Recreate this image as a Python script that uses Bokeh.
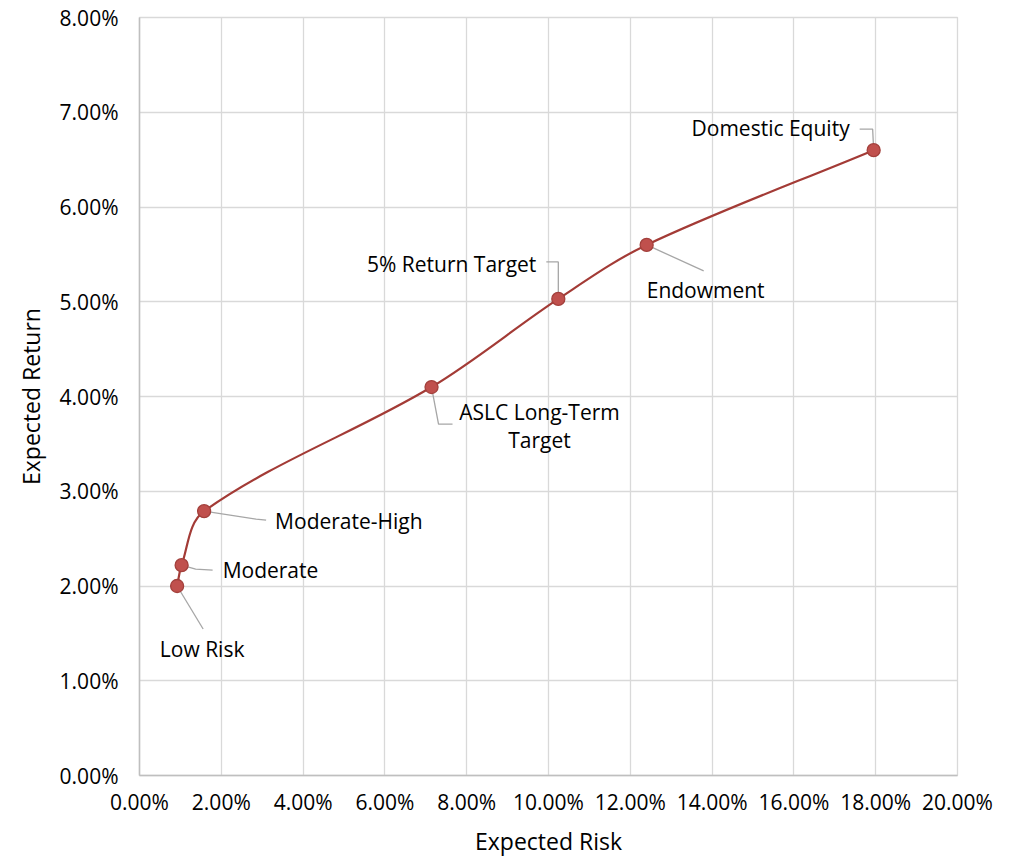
import math
from bokeh.plotting import figure
from bokeh.models import Range1d, FixedTicker, NumeralTickFormatter, ColumnDataSource
from bokeh.embed import file_html
from bokeh.resources import INLINE
from bokeh.core.properties import value

# ---- data ----
portfolios = ["Low Risk", "Moderate", "Moderate-High", "ASLC Long-Term\nTarget",
              "5% Return Target", "Endowment", "Domestic Equity"]
expected_risk = [0.0092, 0.0103, 0.0158, 0.0714, 0.1024, 0.1240, 0.1795]
expected_return = [0.0200, 0.0222, 0.0279, 0.0410, 0.0503, 0.0560, 0.0660]
x_tick_values = [0.00, 0.02, 0.04, 0.06, 0.08, 0.10, 0.12, 0.14, 0.16, 0.18, 0.20]
y_tick_values = [0.00, 0.01, 0.02, 0.03, 0.04, 0.05, 0.06, 0.07, 0.08]

# ---- layout / style ----
FONT = "Open Sans"
FW, FH = 818, 758
XMAX, YMAX = 0.20, 0.08
SX = FW / XMAX   # px per data unit
SY = FH / YMAX

# label placement (pixel offsets from point: dx right, dy down), and leader paths
label_dx = [25, 41, 71, 108, -22, 59, -24]
label_dy = [63, 5, 10, 39, -35, 45, -22]
label_align = ["center", "left", "left", "center", "right", "center", "right"]
leader_paths = [
    [(0, 0), (26, 43)],
    [(0, 0), (14, 4), (31, 5)],
    [(0, 0), (52, 8), (62, 9)],
    [(0, 0), (7, 37), (21, 37)],
    [(0, 0), (0, -37), (-12, -37)],
    [(0, 0), (57, 26)],
    [(0, 0), (-1, -21), (-14, -21)],
]

p = figure(frame_width=FW, frame_height=FH, output_backend="svg", toolbar_location=None,
           x_range=Range1d(0, XMAX), y_range=Range1d(0, YMAX),
           min_border_left=139, min_border_right=41, min_border_top=17, min_border_bottom=67,
           background_fill_color="white", border_fill_color="white")
p.outline_line_color = "#d9d9d9"
p.outline_line_width = 1.3

for ax in (p.xaxis[0], p.yaxis[0]):
    ax.major_tick_line_color = None
    ax.minor_tick_line_color = None
    ax.axis_line_color = "#bfbfbf"
    ax.axis_line_width = 1.5
    ax.major_label_text_font = FONT
    ax.major_label_text_font_size = "21px"
    ax.major_label_text_color = "#000000"
    ax.axis_label_text_font = FONT
    ax.axis_label_text_font_size = "23px"
    ax.axis_label_text_font_style = "normal"
    ax.axis_label_text_color = "#000000"
    ax.formatter = NumeralTickFormatter(format="0.00%")

p.xaxis[0].ticker = FixedTicker(ticks=x_tick_values)
p.yaxis[0].ticker = FixedTicker(ticks=y_tick_values)
p.xaxis.axis_label = "Expected Risk"
p.yaxis.axis_label = "Expected Return"
p.xaxis.major_label_standoff = 6
p.yaxis.major_label_standoff = 15
p.xaxis.axis_label_standoff = 6
p.yaxis.axis_label_standoff = 10

p.xgrid.ticker = FixedTicker(ticks=x_tick_values)
p.ygrid.ticker = FixedTicker(ticks=y_tick_values)
p.grid.grid_line_color = "#d9d9d9"
p.grid.grid_line_width = 1.3

# ---- smoothed line (Bezier segments through the points) ----
n = len(expected_risk)
pts = [(expected_risk[i] * SX, expected_return[i] * SY) for i in range(n)]
def tangent(i):
    a = pts[max(i - 1, 0)]
    b = pts[min(i + 1, n - 1)]
    dx, dy = b[0] - a[0], b[1] - a[1]
    l = math.hypot(dx, dy) or 1.0
    return dx / l, dy / l
K = 0.33
bz = dict(x0=[], y0=[], x1=[], y1=[], cx0=[], cy0=[], cx1=[], cy1=[])
for i in range(n - 1):
    p1, p2 = pts[i], pts[i + 1]
    seg = math.hypot(p2[0] - p1[0], p2[1] - p1[1])
    t1, t2 = tangent(i), tangent(i + 1)
    c1 = (p1[0] + t1[0] * seg * K, p1[1] + t1[1] * seg * K)
    c2 = (p2[0] - t2[0] * seg * K, p2[1] - t2[1] * seg * K)
    bz["x0"].append(p1[0] / SX); bz["y0"].append(p1[1] / SY)
    bz["x1"].append(p2[0] / SX); bz["y1"].append(p2[1] / SY)
    bz["cx0"].append(c1[0] / SX); bz["cy0"].append(c1[1] / SY)
    bz["cx1"].append(c2[0] / SX); bz["cy1"].append(c2[1] / SY)
p.bezier(x0="x0", y0="y0", x1="x1", y1="y1", cx0="cx0", cy0="cy0", cx1="cx1", cy1="cy1",
         source=ColumnDataSource(bz), line_color="#a33b36", line_width=2.2)

# ---- leader lines ----
lx, ly = [], []
for i, path in enumerate(leader_paths):
    lx.append([expected_risk[i] + dx / SX for dx, dy in path])
    ly.append([expected_return[i] - dy / SY for dx, dy in path])
p.multi_line(xs=lx, ys=ly, line_color="#a6a6a6", line_width=1.3)

# ---- markers ----
p.scatter(expected_risk, expected_return, size=13, fill_color="#c0504d",
          line_color="#a3403c", line_width=1.3)

# ---- labels ----
lab = ColumnDataSource(dict(x=expected_risk, y=expected_return, t=portfolios,
                            xo=label_dx, yo=label_dy, al=label_align))
p.text(x="x", y="y", text="t", x_offset="xo", y_offset="yo", text_align="al",
       text_baseline="middle", source=lab, text_font=value(FONT),
       text_font_size="21px", text_color="#000000", text_line_height=1.0)

open("out.html", "w").write(file_html(p, INLINE))
